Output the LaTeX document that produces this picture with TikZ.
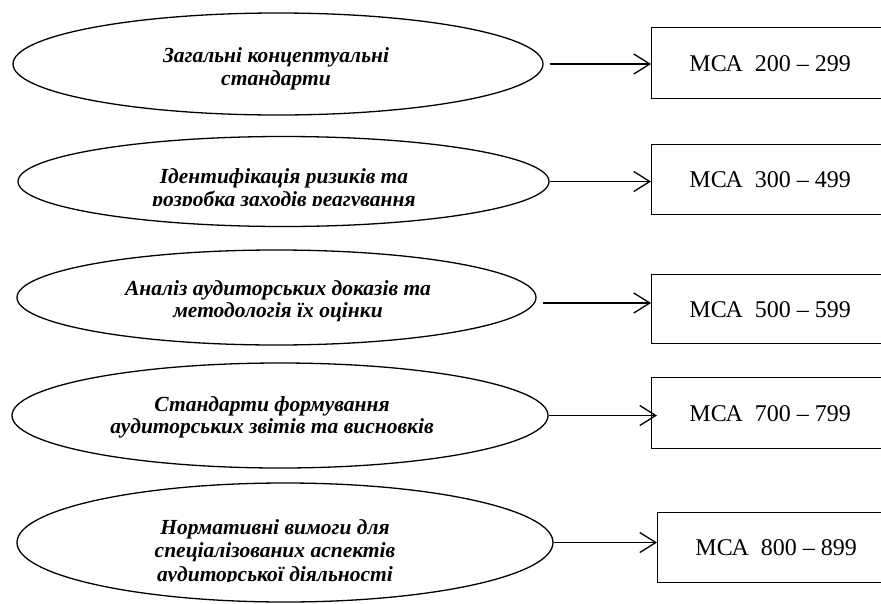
\documentclass[tikz,border=0pt]{standalone}
\usepackage{fontspec}
\setmainfont{Liberation Serif}
\usetikzlibrary{shapes.geometric,arrows.meta}
\begin{document}
\begin{tikzpicture}[x=1pt,y=-1pt,
  oval/.style={draw, ellipse, line width=1.3pt, inner sep=0pt},
  lbl/.style={font=\fontsize{21.5}{22.5}\selectfont\bfseries\itshape, align=center, inner sep=0pt},
  stdbox/.style={draw, rectangle, line width=1.3pt, anchor=north west, minimum width=237pt, inner sep=0pt, font=\fontsize{24}{28}\selectfont},
  arr/.style={line width=1.3pt, -{Straight Barb[length=16pt,width=20pt]}}]
\clip (0,0) rectangle (881,603);
% ellipses
\node[oval, minimum width=530pt, minimum height=102pt] (e1) at (278,64) {};
\node[oval, minimum width=531pt, minimum height=90pt] (e2) at (283.5,181.5) {};
\node[oval, minimum width=519pt, minimum height=95pt] (e3) at (276.5,297.5) {};
\node[oval, minimum width=536pt, minimum height=105pt] (e4) at (280,415.5) {};
\node[oval, minimum width=536pt, minimum height=119pt] (e5) at (285,542.5) {};
% labels
\node[lbl] (t1) at (276,69) {Загальні концептуальні\\стандарти};
\begin{scope}
  \clip (0,0) rectangle (881,205);
  \node[lbl] (t2) at (284,190) {Ідентифікація ризиків та\\розробка заходів реагування};
\end{scope}
\node[lbl] (t3) at (278,301) {Аналіз аудиторських доказів та\\методологія їх оцінки};
\node[lbl] (t4) at (272,417.5) {Стандарти формування\\аудиторських звітів та висновків};
\begin{scope}
  \clip (0,0) rectangle (881,581);
  \node[lbl, font=\fontsize{21.5}{23.5}\selectfont\bfseries\itshape] (t5) at (275,552.5) {Нормативні вимоги для\\спеціалізованих аспектів\\аудиторської діяльності};
\end{scope}
% boxes
\node[stdbox, minimum height=71pt] (b1) at (651,27) {МСА\ \ 200 – 299};
\node[stdbox, minimum height=70pt] (b2) at (651,144) {МСА\ \ 300 – 499};
\node[stdbox, minimum height=69pt] (b3) at (651,274) {МСА\ \ 500 – 599};
\node[stdbox, minimum height=71pt] (b4) at (651,377) {МСА\ \ 700 – 799};
\node[stdbox, minimum height=70pt] (b5) at (657,512) {МСА\ \ 800 – 899};
% arrows
\coordinate (s1) at ([xshift=6pt]e1.east);
\coordinate (s2) at (e2.east);
\coordinate (s3) at (543,303);
\coordinate (s4) at (e4.east);
\coordinate (s5) at (e5.east);
\draw[arr] (s1) -- (b1.west |- s1);
\draw[arr] (s2) -- (b2.west |- s2);
\draw[arr] (s3) -- (b3.west |- s3);
\draw[arr] (s4) -- ([xshift=6pt]b4.west |- s4);
\draw[arr] (s5) -- (b5.west |- s5);
\end{tikzpicture}
\end{document}
